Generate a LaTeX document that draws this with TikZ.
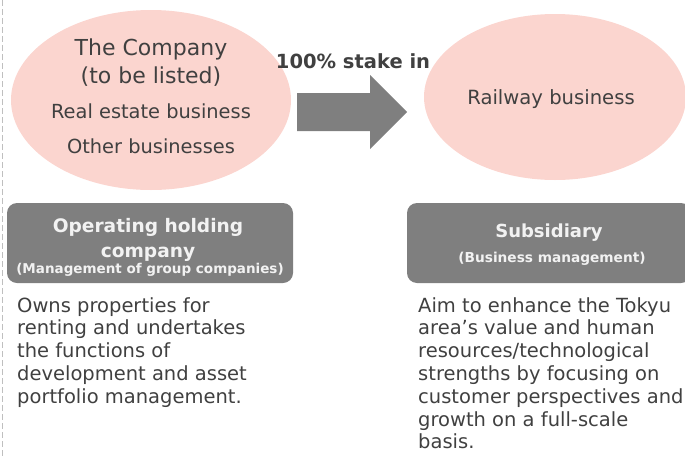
\documentclass[tikz,border=0pt]{standalone}
\usepackage{fontspec}
\setmainfont{DejaVu Sans}
\usetikzlibrary{arrows.meta, positioning, shapes.geometric}
\definecolor{stakepink}{HTML}{FBD5CF}
\definecolor{stakegray}{HTML}{7F7F7F}
\definecolor{staketext}{HTML}{404040}
\definecolor{stakeline}{HTML}{BFBFBF}

\begin{document}
\begin{tikzpicture}[
    x=1pt, y=-1pt,
    firm/.style={ellipse, fill=stakepink, inner sep=0pt},
    caption/.style={font=\fontsize{#1}{#1}\selectfont, text=staketext, inner sep=0pt, anchor=base},
    role/.style={fill=stakegray, rounded corners=10pt, inner sep=0pt},
    roletext/.style={font=\bfseries\fontsize{#1}{#1}\selectfont, text=white!95!black, inner sep=0pt, anchor=base},
    note/.style={font=\fontsize{19.5}{22.8}\selectfont, text=staketext, align=left, inner sep=0pt, anchor=north west},
]
\useasboundingbox (0,0) rectangle (685,458);

% Divider on the left
\draw[stakeline, dash pattern=on 6pt off 3pt] (2,0) -- (2,458);

% Companies
\node[firm, minimum width=280pt, minimum height=180pt] (parent) at (151,100) {};
\node[firm, minimum width=262pt, minimum height=166pt] (child) at (555,97) {};

\node[caption=22] (name) at (151,55) {The Company};
\node[caption=22] (listed) at (151,83) {(to be listed)};
\node[caption=19.4] (realestate) at (151,118) {Real estate business};
\node[caption=19.4] (other) at (151,153) {Other businesses};
\node[caption=19.6] (railway) at (551,104) {Railway business};

% Stake arrow
\coordinate (tail) at (297,112);
\coordinate (tip) at (407,112);
\fill[stakegray] (tail) ++(0,-19) -- ++(73,0) -- ++(0,-18) -- (tip)
  -- (370,149) -- (370,131) -- (297,131) -- cycle;
\node[caption=19.5, font=\bfseries\fontsize{19.5}{19.5}\selectfont] (stake) at (353,68) {100\% stake in};

% Roles
\node[role, minimum width=286pt, minimum height=80pt] (holding) at (150,243) {};
\node[roletext=18.6] (holdingname) at (148,232) {Operating holding};
\node[roletext=18.6] (holdingname2) at (148,257) {company};
\node[roletext=13.5] (holdingtask) at (150,273) {(Management of group companies)};

\node[role, minimum width=284pt, minimum height=80pt] (subsidiary) at (549,243) {};
\node[roletext=18] (subsidiaryname) at (549,237) {Subsidiary};
\node[roletext=13.7] (subsidiarytask) at (552,262) {(Business management)};

% Notes below
\node[note] (holdingnote) at (17,297) {Owns properties for\\renting and undertakes\\the functions of\\development and asset\\portfolio management.};
\node[note] (subsidiarynote) at (418,297) {Aim to enhance the Tokyu\\area’s value and human\\resources/technological\\strengths by focusing on\\customer perspectives and\\growth on a full-scale\\basis.};

\end{tikzpicture}
\end{document}
